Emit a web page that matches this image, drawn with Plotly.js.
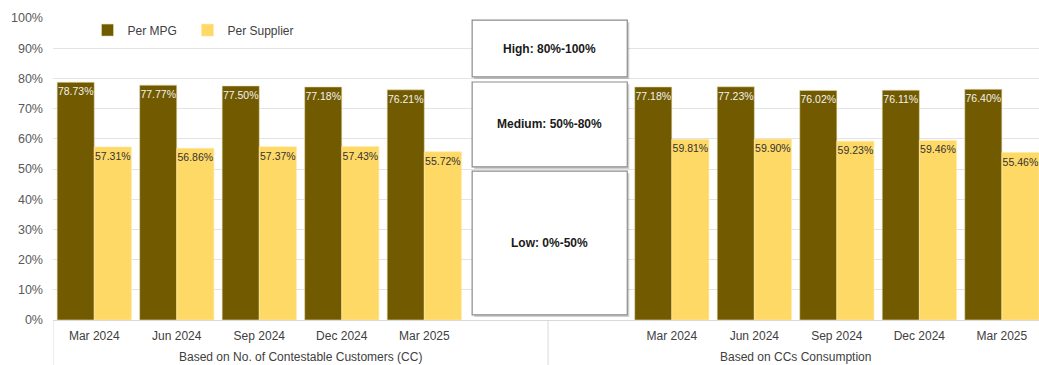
<!DOCTYPE html>
<html>
<head>
<meta charset="utf-8">
<script src="https://cdn.plot.ly/plotly-3.0.1.min.js"></script>
<style>html,body{margin:0;padding:0;background:#fff;}#chart{width:1039px;height:365px;}</style>
</head>
<body>
<div id="chart"></div>
<script>
// ---- data ----
const periods = ["Mar 2024", "Jun 2024", "Sep 2024", "Dec 2024", "Mar 2025"];
const groupLabels = ["Based on No. of Contestable Customers (CC)", "Based on CCs Consumption"];
const mpgCC = [78.73, 77.77, 77.50, 77.18, 76.21];
const supplierCC = [57.31, 56.86, 57.37, 57.43, 55.72];
const mpgCons = [77.18, 77.23, 76.02, 76.11, 76.40];
const supplierCons = [59.81, 59.90, 59.23, 59.46, 55.46];
const bands = ["High: 80%-100%", "Medium: 50%-80%", "Low: 0%-50%"];
const seriesNames = ["Per MPG", "Per Supplier"];

// ---- layout helpers ----
const leftX = periods.map((p, i) => i);
const rightX = periods.map((p, i) => i + 7);
const xs = leftX.concat(rightX);
const ticktext = periods.concat(periods);
const fmt = v => v.toFixed(2) + "%";

const dark = "#715A00";
const light = "#FFD966";

const mpgVals = mpgCC.concat(mpgCons);
const supVals = supplierCC.concat(supplierCons);

const traces = [
  {
    type: "bar", name: seriesNames[0], x: xs, y: mpgVals, legend: "legend",
    text: mpgVals.map(fmt), textposition: "inside", insidetextanchor: "end",
    constraintext: "none", textangle: 0,
    textfont: {family: "Liberation Sans, Arial, sans-serif", size: 10.5, color: "#F2F2F2"},
    marker: {color: dark, line: {color: "#E8DDB0", width: 0.6}},
    hoverinfo: "skip"
  },
  {
    type: "bar", name: seriesNames[1], x: xs, y: supVals, legend: "legend2",
    text: supVals.map(fmt), textposition: "inside", insidetextanchor: "end",
    constraintext: "none", textangle: 0,
    textfont: {family: "Liberation Sans, Arial, sans-serif", size: 10.5, color: "#333333"},
    marker: {color: light, line: {color: "#FFE9A8", width: 0.6}},
    hoverinfo: "skip"
  }
];

// band boxes (positions in axis units)
const boxX0 = 4.58, boxX1 = 6.46;
const boxY = [[80.5, 99.3], [50.7, 78.8], [1.7, 49.3]];
const shapes = [];
const annotations = [];
boxY.forEach((b, i) => {
  shapes.push({type: "rect", xref: "x", yref: "y", x0: boxX0 + 0.025, x1: boxX1 + 0.025, y0: b[0] - 0.7, y1: b[1] - 0.7,
    fillcolor: "rgba(0,0,0,0.18)", line: {width: 0}, layer: "above"});
  shapes.push({type: "rect", xref: "x", yref: "y", x0: boxX0, x1: boxX1, y0: b[0], y1: b[1],
    fillcolor: "#FFFFFF", line: {color: "#8C8C8C", width: 1.2}, layer: "above"});
  annotations.push({xref: "x", yref: "y", x: (boxX0 + boxX1) / 2, y: (b[0] + b[1]) / 2, text: "<b>" + bands[i] + "</b>",
    showarrow: false, font: {family: "Liberation Sans, Arial, sans-serif", size: 12, color: "#1a1a1a"}});
});
// group dividers below axis
[-0.5, 5.5].forEach(xv => {
  shapes.push({type: "line", xref: "x", yref: "paper", x0: xv, x1: xv, y0: 0, y1: -0.16,
    line: {color: "#D9D9D9", width: 1}});
});
// group labels
[2.5, 8.5].forEach((xv, i) => {
  annotations.push({xref: "x", yref: "paper", x: xv, y: -0.122, yanchor: "middle", text: groupLabels[i],
    showarrow: false, font: {family: "Liberation Sans, Arial, sans-serif", size: 12, color: "#404040"}});
});

const legendBase = {orientation: "h", y: 0.96, xanchor: "left", yanchor: "middle",
  font: {size: 12, color: "#404040"}, bgcolor: "rgba(255,255,255,0)", itemwidth: 30};

const layout = {
  width: 1039, height: 365,
  margin: {l: 53, r: 0, t: 18, b: 45, pad: 0},
  paper_bgcolor: "#FFFFFF", plot_bgcolor: "#FFFFFF",
  barmode: "group", bargap: 0.1, bargroupgap: 0,
  font: {family: "Liberation Sans, Arial, sans-serif", size: 12, color: "#404040"},
  showlegend: true,
  legend: Object.assign({}, legendBase, {x: 0.035}),
  legend2: Object.assign({}, legendBase, {x: 0.1364}),
  xaxis: {
    range: [-0.5, 11.45], tickmode: "array", tickvals: xs, ticktext: ticktext,
    showgrid: false, zeroline: false, showline: true, linecolor: "#D9D9D9", linewidth: 1,
    ticks: "", ticklabelstandoff: 5, tickfont: {size: 12, color: "#404040"}, fixedrange: true
  },
  yaxis: {
    range: [0, 100], tickmode: "array", tickvals: [0,10,20,30,40,50,60,70,80,90,100],
    ticktext: ["0%","10%","20%","30%","40%","50%","60%","70%","80%","90%","100%"],
    showgrid: true, gridcolor: "#E3E3E3", gridwidth: 1, zeroline: false, showline: false,
    ticks: "", ticklabelstandoff: 9, tickfont: {size: 12.5, color: "#595959"}, fixedrange: true
  },
  shapes: shapes,
  annotations: annotations
};

Plotly.newPlot("chart", traces, layout, {displayModeBar: false, staticPlot: true});
</script>
</body>
</html>
